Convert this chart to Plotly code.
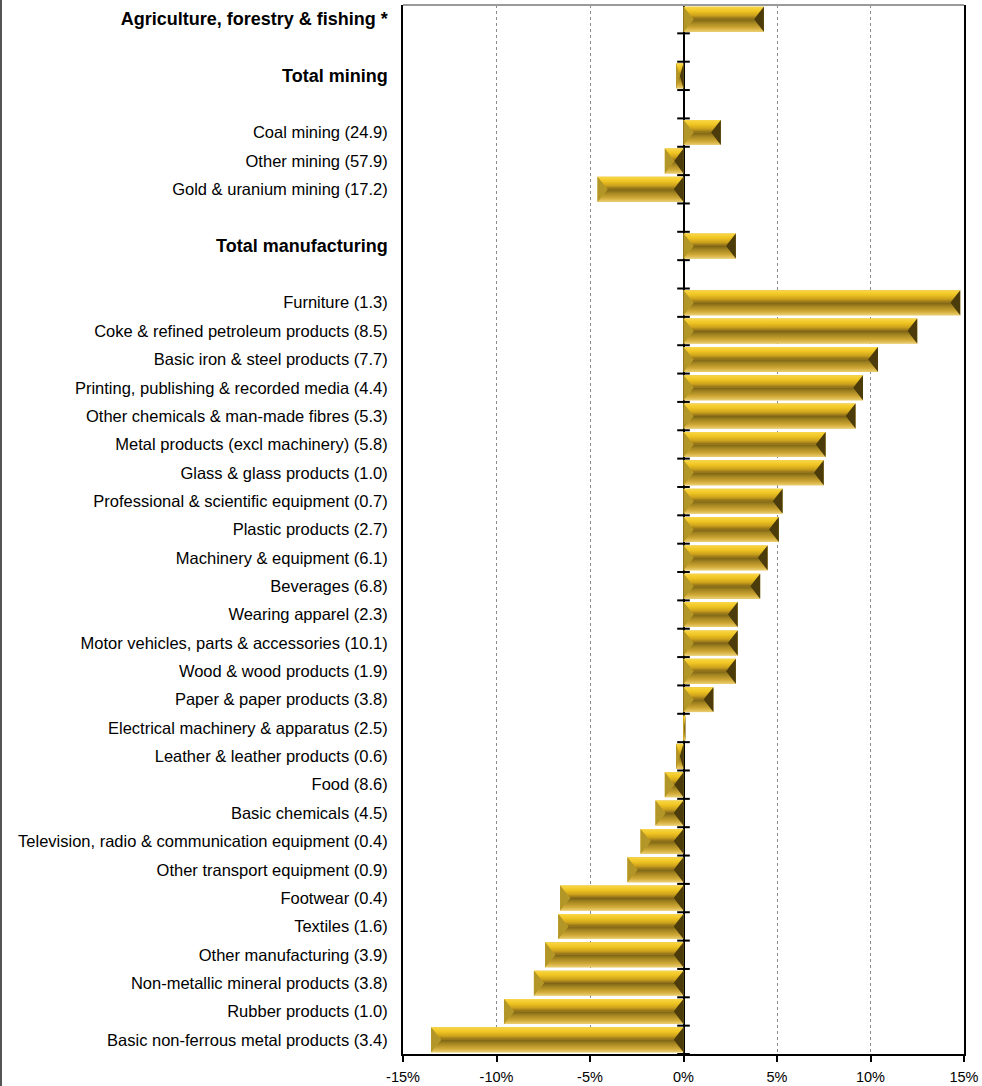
import plotly.graph_objects as go

# Year-on-year change in production, by sector (%); weights in brackets.
# Empty strings / None are spacer rows between the sector groups.
labels = [
    "Agriculture, forestry & fishing *",
    "",
    "Total mining",
    "",
    "Coal mining (24.9)",
    "Other mining (57.9)",
    "Gold & uranium mining (17.2)",
    "",
    "Total manufacturing",
    "",
    "Furniture (1.3)",
    "Coke & refined petroleum products (8.5)",
    "Basic iron & steel products (7.7)",
    "Printing, publishing & recorded media (4.4)",
    "Other chemicals & man-made fibres (5.3)",
    "Metal products (excl machinery) (5.8)",
    "Glass & glass products (1.0)",
    "Professional & scientific equipment (0.7)",
    "Plastic products (2.7)",
    "Machinery & equipment (6.1)",
    "Beverages (6.8)",
    "Wearing apparel (2.3)",
    "Motor vehicles, parts & accessories (10.1)",
    "Wood & wood products (1.9)",
    "Paper & paper products (3.8)",
    "Electrical machinery & apparatus (2.5)",
    "Leather & leather products (0.6)",
    "Food (8.6)",
    "Basic chemicals (4.5)",
    "Television, radio & communication equipment (0.4)",
    "Other transport equipment (0.9)",
    "Footwear (0.4)",
    "Textiles (1.6)",
    "Other manufacturing (3.9)",
    "Non-metallic mineral products (3.8)",
    "Rubber products (1.0)",
    "Basic non-ferrous metal products (3.4)",
]

values = [
    4.3, None, -0.4, None,
    2.0, -1.0, -4.6, None,
    2.8, None,
    14.8, 12.5, 10.4, 9.6, 9.2, 7.6, 7.5, 5.3, 5.1, 4.5, 4.1, 2.9, 2.9, 2.8,
    1.6, 0.1, -0.4, -1.0, -1.5, -2.3, -3.0, -6.6, -6.7, -7.4, -8.0, -9.6, -13.5,
]

bold_labels = {"Agriculture, forestry & fishing *", "Total mining", "Total manufacturing"}

x_ticks = [-15, -10, -5, 0, 5, 10, 15]
x_ticktext = ["-15%", "-10%", "-5%", "0%", "5%", "10%", "15%"]

# ---- layout geometry -------------------------------------------------------
W, H = 982, 1086
M_L, M_R, M_T, M_B = 403, 18, 5, 32
plot_w = W - M_L - M_R
X_MIN, X_MAX = -15, 15
BAR_W = 0.88                     # bar thickness in row units
BEVEL_PX = 10                    # horizontal depth of the bevelled ends
bevel_x = BEVEL_PX * (X_MAX - X_MIN) / plot_w
half_h = BAR_W / 2

n = len(labels)
ypos = [n - 1 - i for i in range(n)]

ticktext = []
for lab in labels:
    if lab in bold_labels:
        ticktext.append(f"<b><span style='font-size:18px'>{lab}</span></b>")
    else:
        ticktext.append(lab)

bar_y = [y for y, v in zip(ypos, values) if v is not None]
bar_x = [v for v in values if v is not None]

fig = go.Figure()

# base bars
fig.add_trace(go.Bar(
    x=bar_x, y=bar_y, orientation="h", width=BAR_W,
    marker=dict(color="#D9AE1E", line=dict(width=0)),
    hoverinfo="skip", showlegend=False,
))

TOP_SCALE = [[0, "#86691A"], [0.3, "#CDA21C"], [0.65, "#F0C522"], [1, "#F8D748"]]
BOT_SCALE = [[0, "#EBCF72"], [0.3, "#D0A936"], [0.7, "#A48520"], [1, "#7A6215"]]
LEFT_COLOR = "#B29628"
RIGHT_COLOR = "#4C3C0C"
CLEAR = "rgba(0,0,0,0)"


def facet(xs, ys, **fill):
    fig.add_trace(go.Scatter(
        x=xs, y=ys, mode="lines", fill="toself",
        line=dict(width=0, color=CLEAR),
        hoverinfo="skip", showlegend=False, **fill,
    ))


# bevelled faces on every bar
for y, v in zip(bar_y, bar_x):
    x0, x1 = min(0, v), max(0, v)
    b = min(bevel_x, (x1 - x0) / 2)
    yt, yb = y + half_h, y - half_h
    facet([x0, x1, x1 - b, x0 + b, x0], [yt, yt, y, y, yt],
          fillgradient=dict(type="vertical", colorscale=TOP_SCALE))
    facet([x0, x1, x1 - b, x0 + b, x0], [yb, yb, y, y, yb],
          fillgradient=dict(type="vertical", colorscale=BOT_SCALE))
    facet([x0, x0 + b, x0, x0], [yt, y, yb, yt], fillcolor=LEFT_COLOR)
    facet([x1, x1 - b, x1, x1], [yt, y, yb, yt], fillcolor=RIGHT_COLOR)

# category tick marks along the zero line
bounds = [i - 0.5 for i in range(n + 1)]
fig.add_trace(go.Scatter(
    x=[0] * len(bounds), y=bounds, mode="markers",
    marker=dict(symbol="line-ew", size=9, line=dict(width=2, color="black")),
    hoverinfo="skip", showlegend=False, cliponaxis=False,
))

fig.update_layout(
    width=W, height=H,
    margin=dict(l=M_L, r=M_R, t=M_T, b=M_B, pad=0, autoexpand=False),
    paper_bgcolor="white", plot_bgcolor="white",
    font=dict(family="Liberation Sans, Arial, sans-serif", color="black"),
    bargap=0.12,
    showlegend=False,
    shapes=[
        # top frame edge
        dict(type="line", xref="paper", yref="paper", x0=0, x1=1, y0=1, y1=1,
             line=dict(color="#9A9A9A", width=2), layer="above"),
        # outer left border of the chart area
        dict(type="line", xref="paper", yref="paper",
             x0=(1 - M_L) / plot_w, x1=(1 - M_L) / plot_w, y0=-0.1, y1=1.1,
             line=dict(color="#555555", width=2)),
    ],
)

fig.update_xaxes(
    range=[X_MIN, X_MAX],
    tickvals=x_ticks, ticktext=x_ticktext,
    tickfont=dict(size=14.5),
    ticks="outside", ticklen=6, tickwidth=2, tickcolor="black",
    showline=True, linecolor="black", linewidth=2,
    showgrid=True, gridcolor="#8A8A8A", griddash="dot", gridwidth=1,
    zeroline=True, zerolinecolor="black", zerolinewidth=2,
    ticklabelstandoff=3,
    automargin=False,
    fixedrange=True,
)

fig.update_yaxes(
    range=[-0.5, n - 0.5],
    tickvals=ypos, ticktext=ticktext,
    tickfont=dict(size=16.5),
    ticks="", showgrid=False, zeroline=False,
    showline=True, linecolor="black", linewidth=2, mirror=True,
    ticklabelstandoff=10,
    automargin=False,
    fixedrange=True,
)

fig.write_html("out.html")
